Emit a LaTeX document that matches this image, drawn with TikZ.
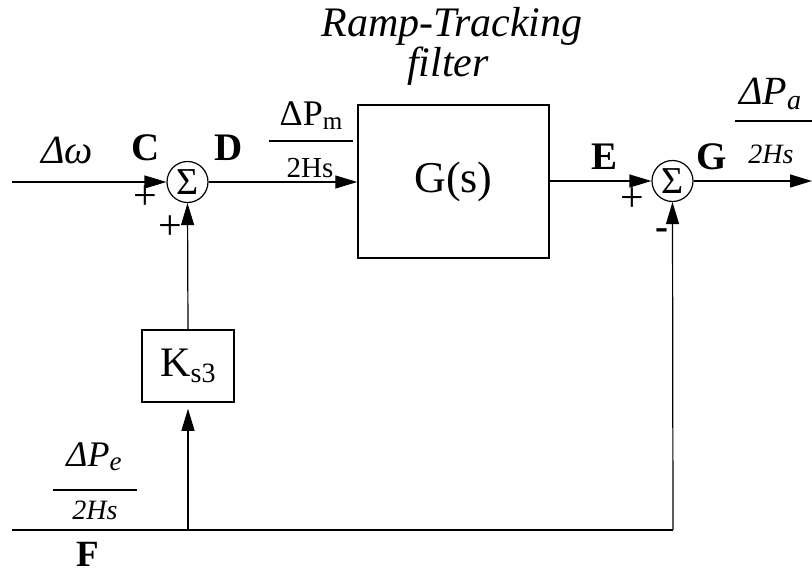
\documentclass[tikz,border=0pt]{standalone}
\usepackage{fontspec}
\setmainfont{Liberation Serif}
\usetikzlibrary{arrows.meta}
\newcommand{\fs}[1]{\fontsize{#1}{#1}\selectfont}
\begin{document}
\begin{tikzpicture}[x=1pt,y=-1pt,
  wire/.style={line width=1.2pt},
  arr/.style={wire,-{Triangle[length=22pt,width=13pt]}},
  sumnode/.style={circle,draw,line width=1.2pt,minimum size=41pt,inner sep=0pt,font=\fs{38}},
  blk/.style={draw,line width=1.5pt,inner sep=0pt},
  lbl/.style={inner sep=0pt,font=\fs{39}\bfseries},
  itl/.style={inner sep=0pt,font=\fs{36}\itshape},
  sgn/.style={inner sep=0pt,font=\fs{42}}]
\useasboundingbox (0,0) rectangle (812,575);
% blocks
\node[sumnode] (s1) at (187.5,182) {\raisebox{-0.1ex}{Σ}};
\node[sumnode] (s2) at (672.5,181) {\raisebox{-0.1ex}{Σ}};
\node[blk,minimum width=191pt,minimum height=153pt,font=\fs{44}] (G) at (453.5,181.5) {G(s)};
\node[blk,minimum width=92pt,minimum height=72pt,font=\fs{42}] (K) at (188,366) {K\raisebox{-0.3ex}{\fs{28}s3}};
% coordinates
\coordinate (in) at (12,182);
\coordinate (out) at (812,181);
\coordinate (F0) at (12,530);
\coordinate (Fb) at (188,530);
\coordinate (Fr) at (673,530);
% connectors
\draw[arr] (in) -- (s1.west);
\draw[arr] (s1.east) -- (G.west|-s1.east);
\draw[arr] (G.east|-s2.west) -- (s2.west);
\draw[arr] (s2.east) -- (out);
\draw[arr] (K.north) -- (s1.south);
\draw[wire] (F0) -- (Fr);
\draw[arr] (Fr) -- (s2.south);
\draw[arr,shorten >=6pt] (Fb) -- (K.south);
% labels
\node[itl,font=\fs{40}\itshape] (dw) at (67,150) {Δω};
\node[lbl] (C) at (146,148) {C};
\node[lbl] (D) at (229,148) {D};
\node[sgn] (p1) at (145,198) {+};
\node[sgn] (p2) at (170,228) {+};
\node[inner sep=0pt,font=\fs{36}] (pmn) at (311,116) {ΔP\raisebox{-0.25ex}{\fs{25}m}};
\coordinate (pmb1) at (269,141); \coordinate (pmb2) at (353,141);
\draw[line width=2.2pt] (pmb1) -- (pmb2);
\node[inner sep=0pt,font=\fs{29}] (pmd) at (310,168) {2Hs};
\node[inner sep=0pt,font=\fs{42}\itshape] (rt) at (452,26) {Ramp-Tracking};
\node[inner sep=0pt,font=\fs{42}\itshape] (fl) at (448,66) {filter};
\node[lbl] (E) at (605,157) {E};
\node[lbl] (Gl) at (712,157) {G};
\node[sgn] (p3) at (632,200) {+};
\node[lbl] (m1) at (662,234) {-};
\node[itl,font=\fs{40}\itshape,anchor=west] (pan) at (739,94) {ΔP\raisebox{-0.25ex}{\fs{28}a}};
\coordinate (pab1) at (735,121); \coordinate (pab2) at (812,121);
\draw[line width=2.2pt] (pab1) -- (pab2);
\node[inner sep=0pt,font=\fs{28}\itshape] (pad) at (771,154) {2Hs};
\node[itl] (pen) at (94,457) {ΔP\raisebox{-0.25ex}{\fs{27}e}};
\coordinate (peb1) at (53,490); \coordinate (peb2) at (137,490);
\draw[line width=2.2pt] (peb1) -- (peb2);
\node[inner sep=0pt,font=\fs{28}\itshape] (ped) at (95,510) {2Hs};
\node[lbl,font=\fs{37}\bfseries,anchor=base] (F) at (88,566) {F};
\end{tikzpicture}
\end{document}
